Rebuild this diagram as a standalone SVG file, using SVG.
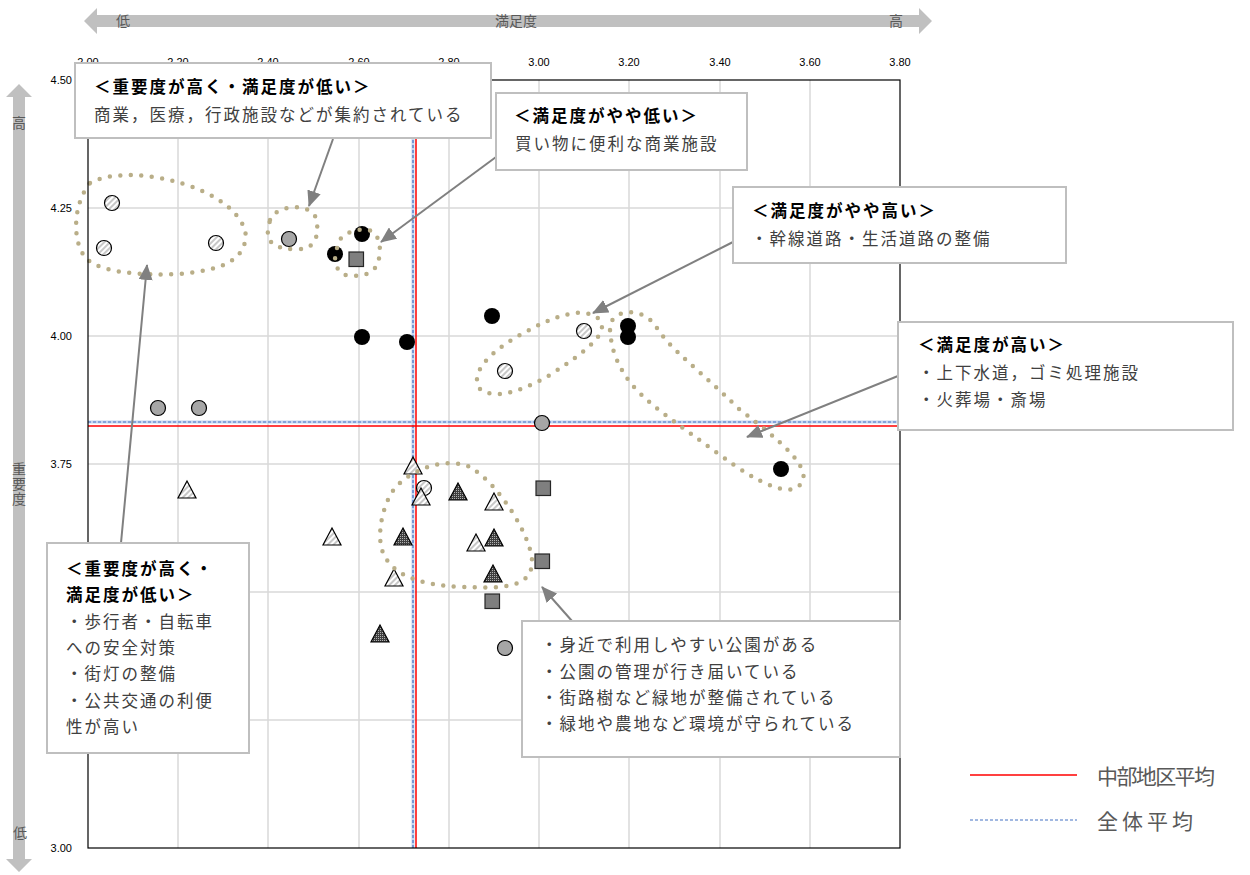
<svg xmlns="http://www.w3.org/2000/svg" width="1250" height="875" viewBox="0 0 1250 875">
<style>
.grid{stroke:#d9d9d9;stroke-width:1.5;fill:none}
.tick{font-family:"Liberation Sans","DejaVu Sans",sans-serif;font-size:11px;fill:#000}
.axl{font-family:"Noto Sans CJK JP",sans-serif;font-size:14px;fill:#595959}
.box{fill:#fff;stroke:#bfbfbf;stroke-width:2}
.t{font-family:"Noto Sans CJK JP",sans-serif;font-size:16.5px;fill:#404040;letter-spacing:2px}
.b{font-weight:bold;fill:#000}
.loop{fill:none;stroke:#b9ae88;stroke-width:4.5;stroke-dasharray:0 10.5;stroke-linecap:round}
.con{stroke:#808080;stroke-width:2;fill:none;marker-end:url(#ah)}
.blk{fill:#000}
.gc{fill:#a6a6a6;stroke:#000;stroke-width:1.2}
.hc{fill:url(#hatch);stroke:#000;stroke-width:1.2}
.sq{fill:#7f7f7f;stroke:#262626;stroke-width:1.2}
.lt{fill:url(#hatch);stroke:#000;stroke-width:1.2}
.dt{fill:url(#dark);stroke:#000;stroke-width:1.2}
.leg{font-family:"Noto Sans CJK JP",sans-serif;font-size:21px;fill:#595959}
</style>
<defs>
<pattern id="hatch" width="4" height="4" patternUnits="userSpaceOnUse" patternTransform="rotate(45)">
<rect width="4" height="4" fill="#fff"/><line x1="1" y1="0" x2="1" y2="4" stroke="#b0b0b0" stroke-width="1.4"/>
</pattern>
<pattern id="dark" width="2" height="2" patternUnits="userSpaceOnUse">
<rect width="2" height="2" fill="#3f3f3f"/><rect width="1" height="1" fill="#b0b0b0"/>
</pattern>
<marker id="ah" markerWidth="16" markerHeight="14" refX="15" refY="7" orient="auto" markerUnits="userSpaceOnUse">
<path d="M0,0 L16,7 L0,14 Z" fill="#808080"/>
</marker>
</defs>
<rect width="1250" height="875" fill="#fff"/>

<g id="axis-arrows">
<path d="M84,21 L97,8 L97,15 L919,15 L919,8 L932,21 L919,34 L919,27 L97,27 L97,34 Z" fill="#c0c0c0"/>
<text class="axl" x="123" y="26" text-anchor="middle">低</text>
<text class="axl" x="516" y="26" text-anchor="middle">満足度</text>
<text class="axl" x="896" y="26" text-anchor="middle">高</text>
<path d="M19,84 L32,97 L25,97 L25,859 L32,859 L19,872 L6,859 L13,859 L13,97 L6,97 Z" fill="#c0c0c0"/>
<text class="axl" x="19" y="128" text-anchor="middle">高</text>
<text class="axl" x="19" y="462" writing-mode="vertical-rl" letter-spacing="1">重要度</text>
<text class="axl" x="20" y="838" text-anchor="middle">低</text>
</g>

<g id="ticks">
<text class="tick" x="88" y="66" text-anchor="middle">2.00</text>
<text class="tick" x="178" y="66" text-anchor="middle">2.20</text>
<text class="tick" x="268" y="66" text-anchor="middle">2.40</text>
<text class="tick" x="359" y="66" text-anchor="middle">2.60</text>
<text class="tick" x="449" y="66" text-anchor="middle">2.80</text>
<text class="tick" x="539" y="66" text-anchor="middle">3.00</text>
<text class="tick" x="629" y="66" text-anchor="middle">3.20</text>
<text class="tick" x="720" y="66" text-anchor="middle">3.40</text>
<text class="tick" x="810" y="66" text-anchor="middle">3.60</text>
<text class="tick" x="900" y="66" text-anchor="middle">3.80</text>
<text class="tick" x="72" y="84" text-anchor="end">4.50</text>
<text class="tick" x="72" y="212" text-anchor="end">4.25</text>
<text class="tick" x="72" y="340" text-anchor="end">4.00</text>
<text class="tick" x="72" y="468" text-anchor="end">3.75</text>
<text class="tick" x="72" y="852" text-anchor="end">3.00</text>
</g>

<g id="grid">
<path class="grid" d="M178,80V848M268,80V848M359,80V848M449,80V848M539,80V848M629,80V848M720,80V848M810,80V848M88,208H900M88,336H900M88,464H900M88,592H900M88,720H900"/>
</g>

<g id="averages">
<line x1="413" y1="80" x2="413" y2="848" stroke="#c5d5f0" stroke-width="3"/>
<line x1="413" y1="80" x2="413" y2="848" stroke="#4472c4" stroke-width="1.2" stroke-dasharray="3 2"/>
<line x1="88" y1="422" x2="900" y2="422" stroke="#c5d5f0" stroke-width="3"/>
<line x1="88" y1="422" x2="900" y2="422" stroke="#4472c4" stroke-width="1.2" stroke-dasharray="3 2"/>
<line x1="416" y1="80" x2="416" y2="848" stroke="#ff0000" stroke-width="1.5"/>
<line x1="88" y1="426" x2="900" y2="426" stroke="#ff0000" stroke-width="1.5"/>
</g>

<g id="markers">
<circle class="hc" cx="112" cy="203" r="7.5"/>
<circle class="hc" cx="104" cy="248" r="7.5"/>
<circle class="hc" cx="216" cy="243" r="7.5"/>
<circle class="hc" cx="584" cy="331" r="7.5"/>
<circle class="hc" cx="505" cy="371" r="7.5"/>
<circle class="hc" cx="424" cy="488" r="7.5"/>
<circle class="gc" cx="289" cy="239" r="7.5"/>
<circle class="gc" cx="158" cy="408" r="7.5"/>
<circle class="gc" cx="199" cy="408" r="7.5"/>
<circle class="gc" cx="542" cy="423" r="7.5"/>
<circle class="gc" cx="505" cy="648" r="7.5"/>
<circle class="blk" cx="362" cy="234" r="8"/>
<circle class="blk" cx="335" cy="254" r="8"/>
<circle class="blk" cx="362" cy="337" r="8"/>
<circle class="blk" cx="407" cy="342" r="8"/>
<circle class="blk" cx="492" cy="316" r="8"/>
<circle class="blk" cx="628" cy="326" r="8"/>
<circle class="blk" cx="628" cy="337" r="8"/>
<circle class="blk" cx="781" cy="469" r="8"/>
<rect class="sq" x="349" y="252" width="14.5" height="14.5"/>
<rect class="sq" x="536" y="481" width="14.5" height="14.5"/>
<rect class="sq" x="535" y="554" width="14.5" height="14.5"/>
<rect class="sq" x="485" y="594" width="14.5" height="14.5"/>
<path class="lt" d="M413,457 L422,474 L404,474 Z"/>
<path class="lt" d="M421,488 L430,505 L412,505 Z"/>
<path class="lt" d="M494,493 L503,510 L485,510 Z"/>
<path class="lt" d="M332,528 L341,545 L323,545 Z"/>
<path class="lt" d="M476,534 L485,551 L467,551 Z"/>
<path class="lt" d="M394,569 L403,586 L385,586 Z"/>
<path class="lt" d="M187,481 L196,498 L178,498 Z"/>
<path class="dt" d="M458,483 L467,500 L449,500 Z"/>
<path class="dt" d="M403,528 L412,545 L394,545 Z"/>
<path class="dt" d="M494,529 L503,546 L485,546 Z"/>
<path class="dt" d="M493,565 L502,582 L484,582 Z"/>
<path class="dt" d="M380,625 L389,642 L371,642 Z"/>
</g>

<g id="groups">
<path class="loop" d="M90,183 C110,172 150,172 190,186 C230,200 250,225 245,242 C240,262 220,270 180,274 C140,276 100,272 87,259 C72,245 72,205 90,183 Z"/>
<path class="loop" d="M270,220 C275,205 310,202 316,218 C320,235 315,250 298,249 C280,250 266,245 268,230 Z"/>
<path class="loop" d="M337,248 C337,235 355,228 368,230 C380,232 382,250 378,262 C374,275 360,277 346,275 C335,272 333,258 337,248 Z"/>
<path class="loop" d="M480,389 C470,375 485,355 520,335 C555,315 585,305 600,320 C610,335 580,355 550,375 C520,392 495,400 480,389 Z"/>
<path class="loop" d="M610,330 C608,310 640,305 655,325 C670,350 700,370 740,410 C780,440 815,470 800,485 C790,497 760,485 720,455 C680,425 640,400 625,375 C612,355 611,340 610,330 Z"/>
<path class="loop" d="M400,483 C420,465 450,458 470,467 C500,485 530,535 532,560 C533,590 500,588 460,587 C420,585 390,575 382,550 C376,530 385,495 400,483 Z"/>
</g>

<rect id="plot-frame" x="88" y="80" width="812" height="768" fill="none" stroke="#000" stroke-width="1.2"/>

<g id="connectors">
<line class="con" x1="333" y1="139" x2="309" y2="206"/>
<line class="con" x1="496" y1="157" x2="381" y2="242"/>
<line class="con" x1="733" y1="242" x2="593" y2="313"/>
<line class="con" x1="898" y1="376" x2="747" y2="437"/>
<line class="con" x1="121" y1="543" x2="147" y2="265"/>
<line class="con" x1="572" y1="621" x2="542" y2="587"/>
</g>

<g id="note1">
<rect class="box" x="75" y="63" width="416" height="75"/>
<text class="t b" x="94" y="93">＜重要度が高く・満足度が低い＞</text>
<text class="t" x="94" y="121">商業，医療，行政施設などが集約されている</text>
</g>
<g id="note2">
<rect class="box" x="496" y="93" width="251" height="77"/>
<text class="t b" x="514" y="122">＜満足度がやや低い＞</text>
<text class="t" x="515" y="150">買い物に便利な商業施設</text>
</g>
<g id="note3">
<rect class="box" x="733" y="187" width="333" height="76"/>
<text class="t b" x="752" y="217">＜満足度がやや高い＞</text>
<text class="t" x="751" y="245">・幹線道路・生活道路の整備</text>
</g>
<g id="note4">
<rect class="box" x="898" y="322" width="335" height="108"/>
<text class="t b" x="918" y="351">＜満足度が高い＞</text>
<text class="t" x="918" y="379">・上下水道，ゴミ処理施設</text>
<text class="t" x="918" y="406">・火葬場・斎場</text>
</g>
<g id="note5">
<rect class="box" x="47" y="543" width="202" height="210"/>
<text class="t b" x="66" y="575">＜重要度が高く・</text>
<text class="t b" x="66" y="601">満足度が低い＞</text>
<text class="t" x="66" y="628">・歩行者・自転車</text>
<text class="t" x="66" y="654">への安全対策</text>
<text class="t" x="66" y="680">・街灯の整備</text>
<text class="t" x="66" y="707">・公共交通の利便</text>
<text class="t" x="66" y="733">性が高い</text>
</g>
<g id="note6">
<rect class="box" x="522" y="621" width="378" height="136"/>
<text class="t" x="541" y="651">・身近で利用しやすい公園がある</text>
<text class="t" x="541" y="678">・公園の管理が行き届いている</text>
<text class="t" x="541" y="704">・街路樹など緑地が整備されている</text>
<text class="t" x="541" y="730">・緑地や農地など環境が守られている</text>
</g>

<g id="legend">
<line x1="970" y1="775" x2="1077" y2="775" stroke="#ff0000" stroke-width="1.5"/>
<text class="leg" x="1097" y="784" textLength="118">中部地区平均</text>
<line x1="970" y1="820" x2="1077" y2="820" stroke="#4472c4" stroke-width="1.2" stroke-dasharray="3 2"/>
<text class="leg" x="1097" y="829" textLength="96">全体平均</text>
</g>
</svg>
